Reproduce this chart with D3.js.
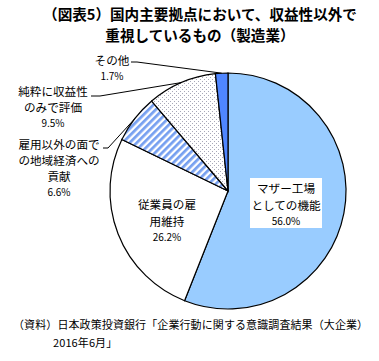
<!DOCTYPE html>
<html><head><meta charset="utf-8">
<script src="https://cdn.jsdelivr.net/npm/d3@7"></script>
<style>
body{margin:0;background:#fff;}
svg{display:block;}
text{font-family:"Noto Sans CJK JP","Noto Sans",sans-serif;fill:#000;}
</style></head>
<body>
<svg id="c" width="379" height="361"></svg>
<script>
const categories = ["マザー工場としての機能","従業員の雇用維持","雇用以外の面での地域経済への貢献","純粋に収益性のみで評価","その他"];
const values = [56.0, 26.2, 6.6, 9.5, 1.7];
const labelLines = [["マザー工場","としての機能"],["従業員の雇","用維持"],["雇用以外の面で","の地域経済への","貢献"],["純粋に収益性","のみで評価"],["その他"]];
const titleLines = ["（図表5）国内主要拠点において、収益性以外で","重視しているもの（製造業）"];
const sourceLines = ["（資料）日本政策投資銀行「企業行動に関する意識調査結果（大企業）","2016年6月」"];

const svg = d3.select("#c");
const defs = svg.append("defs");
const stripe = defs.append("pattern").attr("id","stripe").attr("patternUnits","userSpaceOnUse")
  .attr("width",5).attr("height",5).attr("patternTransform","rotate(-45)");
stripe.append("rect").attr("width",5).attr("height",5).attr("fill","#fff");
stripe.append("rect").attr("width",5).attr("height",2.7).attr("fill","#759FF0");
const dots = defs.append("pattern").attr("id","dots").attr("patternUnits","userSpaceOnUse")
  .attr("width",4).attr("height",4);
dots.append("rect").attr("width",4).attr("height",4).attr("fill","#fff");
dots.append("rect").attr("x",0).attr("y",0).attr("width",1).attr("height",1).attr("fill","#A8A8B8");
dots.append("rect").attr("x",2).attr("y",2).attr("width",1).attr("height",1).attr("fill","#A8A8B8");

const fills = ["#99CCFF","#FFFFFF","url(#stripe)","url(#dots)","#4F86FF"];
const cx = 228, cy = 191, r = 118;

// title
svg.selectAll("text.title").data(titleLines).enter().append("text")
  .attr("x",200).attr("y",(d,i)=>20+i*21).attr("text-anchor","middle")
  .attr("font-size",14.6).attr("font-weight","bold").text(d=>d);

const g = svg.append("g").attr("transform",`translate(${cx},${cy})`);
const pie = d3.pie().sort(null).value(d=>d)(values);
const arc = d3.arc().innerRadius(0).outerRadius(r);
g.selectAll("path").data(pie).enter().append("path")
  .attr("d",arc).attr("fill",(d,i)=>fills[i]).attr("stroke","#000").attr("stroke-width",1.2);

// label positions (layout)
const labelPos = [
  {x:286,y:193,box:[250,178,72,50]},
  {x:167,y:209},
  {x:59,y:149},
  {x:53,y:96},
  {x:112,y:65}
];
const leaderStart = [null,null,[103,148],[91,96],[131,62]];
const leaderBend = [null,null,[108,148],[100,96],[137,62]];

const outer = d3.arc().innerRadius(r).outerRadius(r);
pie.forEach((p,i)=>{
  const lp = labelPos[i];
  if(lp.box){
    svg.append("rect").attr("x",lp.box[0]).attr("y",lp.box[1]).attr("width",lp.box[2]).attr("height",lp.box[3]).attr("fill","#fff");
  }
  const lines = labelLines[i];
  const lh = i>=2 ? 16 : 16.5;
  lines.forEach((t,j)=>{
    svg.append("text").attr("x",lp.x).attr("y",lp.y+j*lh).attr("text-anchor","middle")
      .attr("font-size",11.6).text(t);
  });
  svg.append("text").attr("x",lp.x).attr("y",lp.y+lines.length*lh-1).attr("text-anchor","middle")
    .attr("font-size",10).text(d3.format(".1f")(values[i])+"%");
  if(leaderStart[i]){
    const c = outer.centroid(p);
    const end = [cx+c[0], cy+c[1]];
    svg.append("polyline").attr("points",[leaderStart[i],leaderBend[i],end].map(q=>q.join(",")).join(" "))
      .attr("fill","none").attr("stroke","#000").attr("stroke-width",1);
  }
});

svg.selectAll("text.src").data(sourceLines).enter().append("text")
  .attr("x",(d,i)=>i===0?13:53).attr("y",(d,i)=>329+i*18)
  .attr("font-size",11).attr("letter-spacing",0.1).text(d=>d);
</script>
</body></html>
